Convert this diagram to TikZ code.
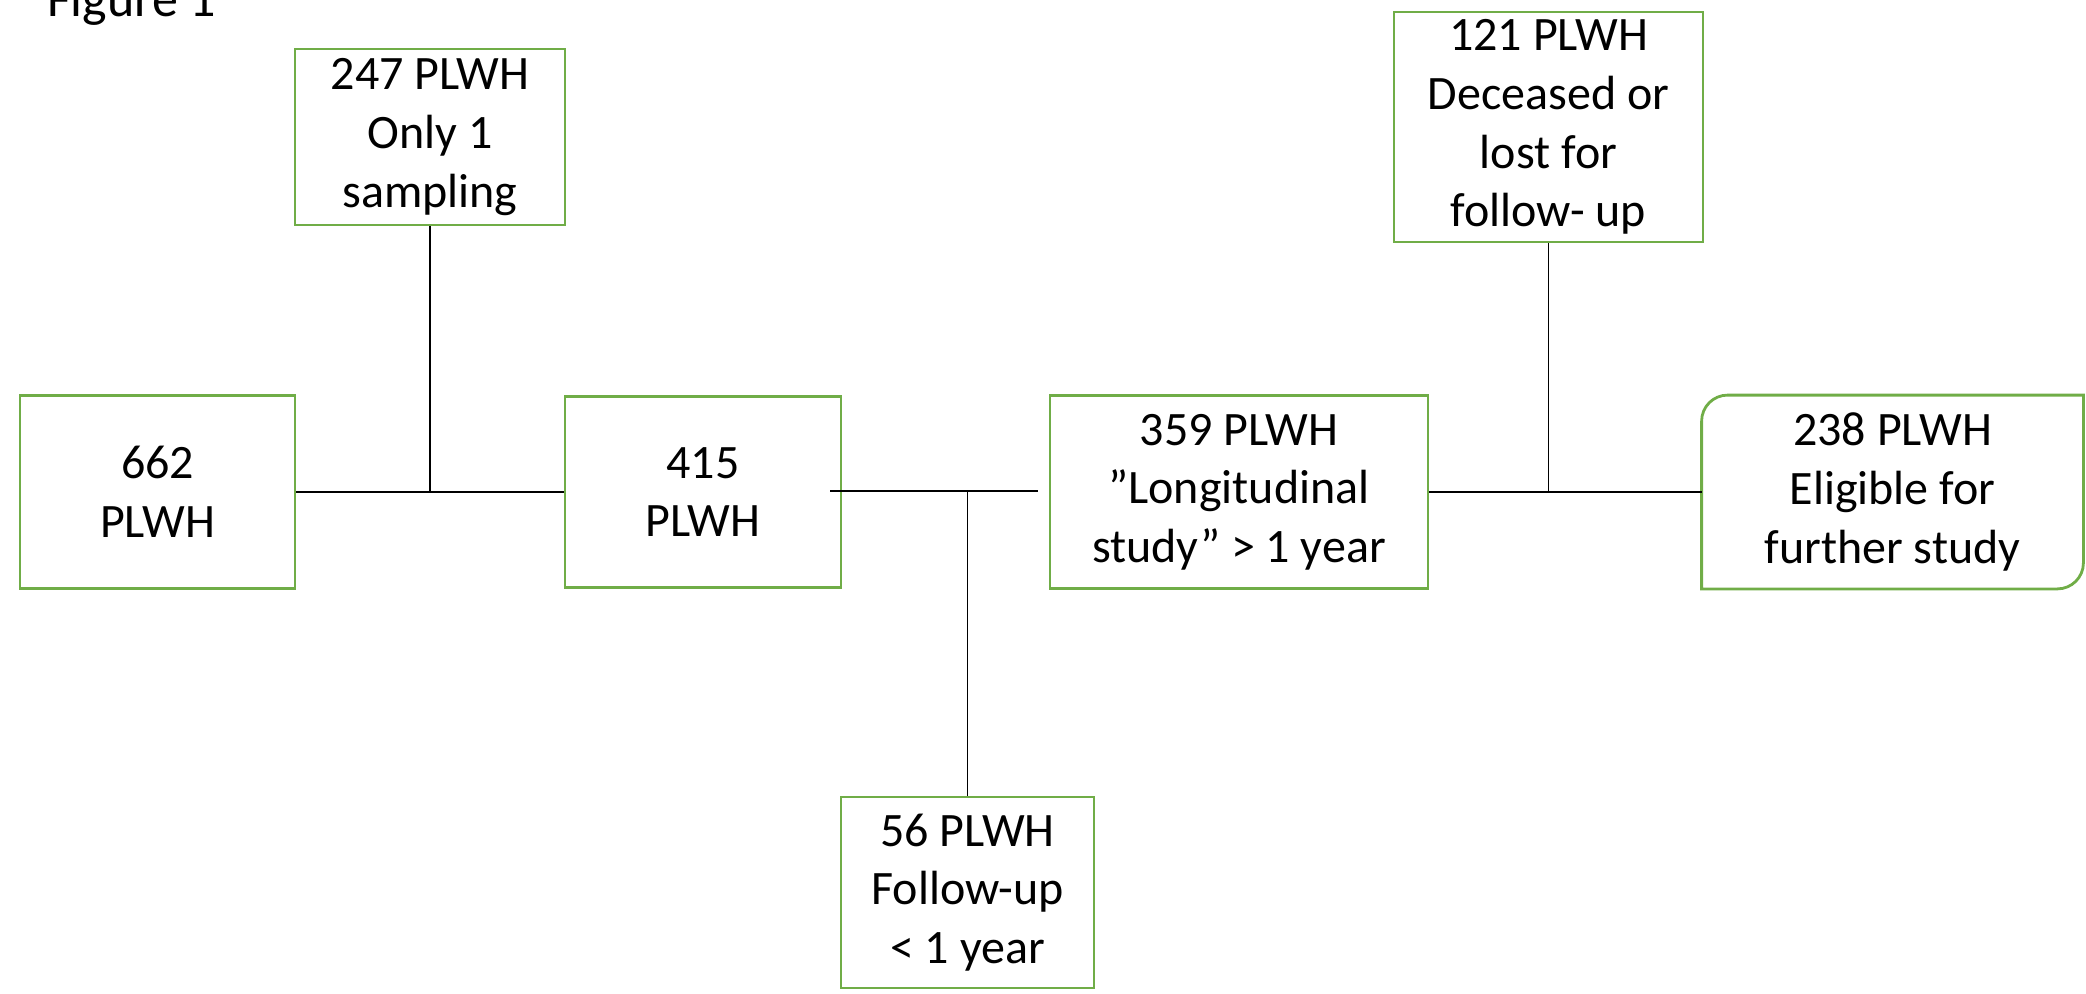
\documentclass[tikz,border=0pt]{standalone}
\usepackage{fontspec}
\setmainfont{Carlito}
\usepackage{tikz}
\usetikzlibrary{positioning,calc}
\definecolor{boxgreen}{RGB}{112,173,71}

\begin{document}
\begin{tikzpicture}[x=0.5pt,y=-0.5pt,
box/.style={draw=boxgreen,line width=1.4pt,inner sep=0pt,align=center,
  font=\fontsize{24}{29.3}\selectfont},
link/.style={line width=0.6pt}]
\useasboundingbox (0,0) rectangle (2086,994);

\node (fig) at (40,17) [anchor=base west,font=\fontsize{26}{30}\selectfont] {Figure 1};

\node (v662) at (157.5,492) [box,minimum width=137.5pt,minimum height=96.5pt] {662\\PLWH};
\node (v247) at (430,137) [box,minimum width=135pt,minimum height=88pt] {247 PLWH\\Only 1\\sampling};
\node (v415) at (703,492) [box,minimum width=138pt,minimum height=95.5pt] {415\\PLWH};
\node (v56) at (967.5,892.5) [box,minimum width=126.5pt,minimum height=95.5pt] {56 PLWH\\Follow-up\\< 1 year};
\node (v359) at (1239,492) [box,minimum width=189pt,minimum height=96.5pt] {359 PLWH\\”Longitudinal\\study” > 1 year};
\node (v121) at (1548.5,127) [box,minimum width=154.5pt,minimum height=115pt] {121 PLWH\\Deceased or\\lost for\\follow- up};
\node (v238) at (1892.5,492) [box,draw=none,minimum width=189.5pt,minimum height=95.5pt] {238 PLWH\\Eligible for\\further study};
% only two corners of this box are rounded
\draw[draw=boxgreen,line width=1.4pt] (v238.north) -- (v238.north east)
  [rounded corners=13pt] -- (v238.south east)
  [sharp corners] -- (v238.south west)
  [rounded corners=13pt] -- (v238.north west)
  [sharp corners] -- cycle;

\coordinate (c1) at (830,491);
\coordinate (c2) at (1038,491);

\draw[link] (v662.east) -- (v415.west);
\draw[link] (v247.south) -- (v247.south |- v662.east);
\draw[link] (c1) -- (c2);
\draw[link] (v56.north) -- (v56.north |- c1);
\draw[link] (v359.east) -- (v238.west);
\draw[link] (v121.south) -- (v121.south |- v359.east);

\end{tikzpicture}
\end{document}
